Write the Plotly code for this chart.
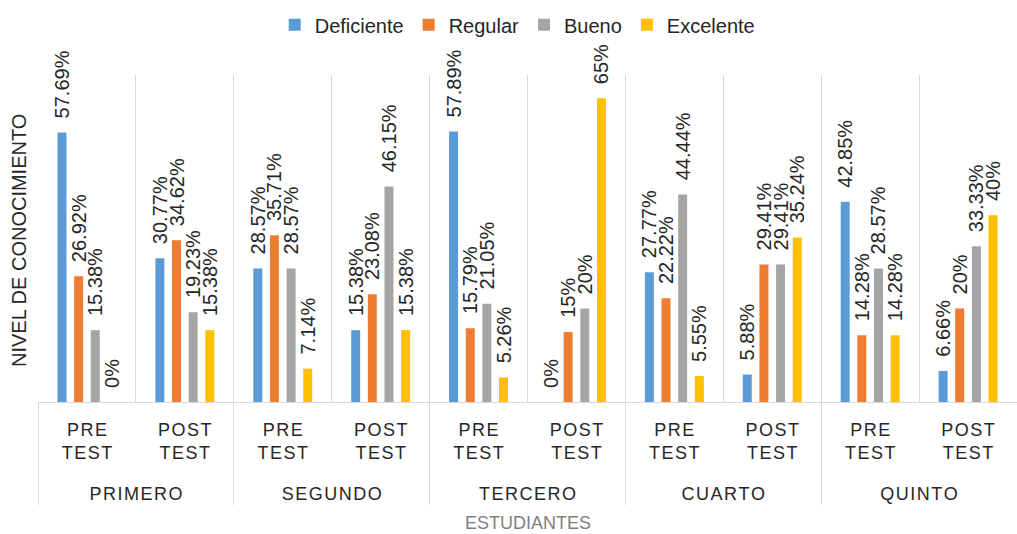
import plotly.graph_objects as go

grades = ["PRIMERO", "SEGUNDO", "TERCERO", "CUARTO", "QUINTO"]
tests = [("PRE", "TEST"), ("POST", "TEST")]
series_names = ["Deficiente", "Regular", "Bueno", "Excelente"]
colors = ["#5B9BD5", "#ED7D31", "#A5A5A5", "#FFC000"]

# values per (grade, test) in order: PRIMERO pre, PRIMERO post, SEGUNDO pre, ...
deficiente = [57.69, 30.77, 28.57, 15.38, 57.89, 0, 27.77, 5.88, 42.85, 6.66]
regular = [26.92, 34.62, 35.71, 23.08, 15.79, 15, 22.22, 29.41, 14.28, 20]
bueno = [15.38, 19.23, 28.57, 46.15, 21.05, 20, 44.44, 29.41, 28.57, 33.33]
excelente = [0, 15.38, 7.14, 15.38, 5.26, 65, 5.55, 35.24, 14.28, 40]

series_values = [deficiente, regular, bueno, excelente]

HS = "\u200a"  # hair space to mimic letter spacing


def spaced(word):
    return HS.join(word)


grade_labels = [spaced(g) for g in grades]
test_labels = [spaced(a) + "<br>" + spaced(b) + "<br><span style='font-size:51px'>\u00a0</span>"
               for a, b in tests]

x_outer = [g for g in grade_labels for _ in test_labels]
x_inner = [t for _ in grade_labels for t in test_labels]

FONT = "Liberation Sans, Arial, sans-serif"

fig = go.Figure()
for name, vals, col in zip(series_names, series_values, colors):
    fig.add_trace(go.Bar(
        name=name,
        x=[x_outer, x_inner],
        y=vals,
        marker=dict(color=col, line=dict(width=0)),
        text=[f"\u00a0\u00a0{v:g}%" for v in vals],
        textposition="outside",
        textangle=-90,
        constraintext="none",
        cliponaxis=False,
        textfont=dict(family=FONT, size=20, color="#262626"),
    ))

fig.update_layout(
    width=1017, height=534,
    barmode="group",
    bargap=0.32,
    bargroupgap=0.46,
    plot_bgcolor="white",
    paper_bgcolor="white",
    font=dict(family=FONT, color="#262626"),
    margin=dict(l=38, r=0, t=75, b=132),
    legend=dict(
        orientation="h",
        x=0.49, xanchor="center",
        yref="container", y=0.99, yanchor="top",
        font=dict(size=20, color="#262626"),
        itemwidth=30,
    ),
    xaxis=dict(
        type="multicategory",
        automargin=False,
        showgrid=True,
        gridcolor="#D9D9D9",
        tickson="boundaries",
        showline=True,
        linecolor="#D9D9D9",
        ticks="",
        ticklabelstandoff=11,
        showdividers=True,
        dividercolor="#D9D9D9",
        dividerwidth=1,
        tickfont=dict(size=18, color="#262626"),
    ),
    yaxis=dict(
        automargin=False,
        range=[0, 70],
        showticklabels=False,
        showgrid=False,
        zeroline=False,
    ),
    annotations=[
        dict(text="ESTUDIANTES", xref="paper", yref="paper",
             x=0.5, y=-(523 - 402) / 327, xanchor="center", yanchor="middle",
             showarrow=False, font=dict(size=18, color="#7F7F7F")),
        dict(text="NIVEL DE CONOCIMIENTO", xref="paper", yref="paper",
             x=(19 - 38) / 979, y=(402 - 241) / 327, xanchor="center", yanchor="middle",
             textangle=-90, showarrow=False, font=dict(size=20, color="#262626")),
    ],
)

fig.write_html("out.html", config={"displayModeBar": False},
               post_script="document.body.style.margin='0';document.body.style.padding='0';")
